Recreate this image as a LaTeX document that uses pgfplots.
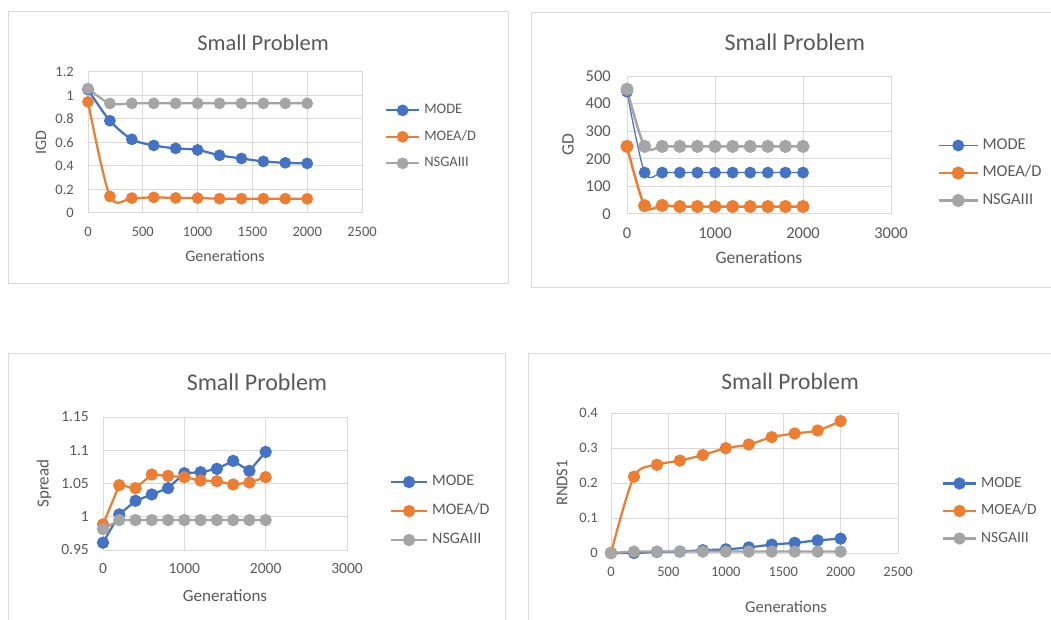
\documentclass[border=0pt]{standalone}
\usepackage{pgfplots}
\pgfplotsset{compat=1.18}
\usepackage{fontspec}
\setmainfont{Carlito}
\definecolor{cBlue}{HTML}{4472C4}
\definecolor{cOrange}{HTML}{ED7D31}
\definecolor{cGray}{HTML}{A5A5A5}
\definecolor{cText}{HTML}{595959}
\definecolor{cGrid}{HTML}{D9D9D9}
\definecolor{cFrame}{HTML}{D9D9D9}
\newcommand{\fs}[1]{\fontsize{#1}{#1}\selectfont}
\pgfplotsset{
  excel/.style={
    scale only axis,
    axis line style={draw=cGrid, line width=1pt},
    grid=major, grid style={draw=cGrid, line width=1pt},
    major tick length=0pt,
    every tick/.style={draw=none},
    tick label style={text=cText},
    /pgf/number format/assume math mode=true,
    /pgf/number format/1000 sep={},
    xticklabel style={anchor=center, inner sep=0pt},
    yticklabel style={anchor=east, inner sep=0pt},
    label style={text=cText},
    xlabel style={anchor=center},
    ylabel style={at={(rel axis cs:0,0.5)}, anchor=center},
    title style={anchor=center, text=cText},
    legend style={draw=none, fill=none, inner sep=0pt, outer sep=0pt, text=cText, anchor=west,
      nodes={inner sep=0pt, text height=10pt, text depth=3pt}},
    legend cell align=left,
    clip=false,
  },
}
\begin{document}
\begin{tikzpicture}
\path[use as bounding box, fill=white] (0pt,0pt) rectangle (1051pt,619pt);
% frames
\draw[cFrame, line width=1pt] (8pt,335pt) rectangle (508pt,607pt);
\draw[cFrame, line width=1pt] (531pt,331pt) rectangle (1060pt,606pt);
\draw[cFrame, line width=1pt] (8pt,266pt) rectangle (505pt,-10pt);
\draw[cFrame, line width=1pt] (528pt,266pt) rectangle (1060pt,-10pt);

% Panel 1: IGD
\begin{axis}[excel, at={(88pt,406pt)}, anchor=south west, width=274pt, height=141pt,
  xmin=0, xmax=2500, ymin=0, ymax=1.2,
  xtick={0,500,...,2500}, ytick={0,0.2,0.4,0.6,0.8,1,1.2},
  tick label style={font=\fs{14.5}},
  xticklabel style={yshift=-19pt}, yticklabel style={xshift=-14pt},
  xlabel={Generations}, ylabel={IGD}, label style={font=\fs{16}},
  xlabel style={at={(rel axis cs:0.5,0)}, yshift=-43pt},
  ylabel style={yshift=47pt},
  title={Small Problem}, title style={at={(axis description cs:0.639,1.163)}, font=\fs{22.5}},
  legend style={at={(axis description cs:1.084,0.54)}, font=\fs{14.5}, row sep=13.5pt, column sep=4pt},
  legend image code/.code={\draw[mark repeat=2,mark phase=2,#1] plot coordinates {(0pt,0pt) (16.5pt,0pt) (33pt,0pt)};},
  every axis plot/.append style={line width=2.25pt, mark=*, mark size=4.7pt, mark options={solid}},
]
\addplot[cBlue, smooth, tension=0.5, mark options={fill=cBlue, draw=cBlue}] coordinates {
(0,1.05)(200,0.785)(400,0.627)(600,0.575)(800,0.55)(1000,0.537)(1200,0.491)(1400,0.464)(1600,0.439)(1800,0.427)(2000,0.422)};
\addplot[cOrange, smooth, tension=0.5, mark options={fill=cOrange, draw=cOrange}] coordinates {
(0,0.946)(200,0.141)(400,0.127)(600,0.133)(800,0.128)(1000,0.127)(1200,0.122)(1400,0.122)(1600,0.122)(1800,0.122)(2000,0.121)};
\addplot[cGray, smooth, tension=0.5, mark options={fill=cGray, draw=cGray}] coordinates {
(0,1.059)(200,0.932)(400,0.933)(600,0.933)(800,0.933)(1000,0.933)(1200,0.933)(1400,0.933)(1600,0.933)(1800,0.933)(2000,0.933)};
\legend{MODE,MOEA/D,NSGAIII}
\end{axis}

% Panel 2: GD
\begin{axis}[excel, at={(627pt,405pt)}, anchor=south west, width=264pt, height=138pt,
  xmin=0, xmax=3000, ymin=0, ymax=500,
  xtick={0,1000,2000,3000}, ytick={0,100,...,500},
  tick label style={font=\fs{16.5}},
  xticklabel style={yshift=-19pt}, yticklabel style={xshift=-16pt},
  xlabel={Generations}, ylabel={GD}, label style={font=\fs{17.5}},
  xlabel style={at={(rel axis cs:0.5,0)}, yshift=-44pt},
  ylabel style={yshift=59pt},
  title={Small Problem}, title style={at={(axis description cs:0.636,1.203)}, font=\fs{24}},
  legend style={at={(axis description cs:1.178,0.297)}, font=\fs{16.5}, row sep=14.5pt, column sep=4pt},
  legend image code/.code={\draw[mark repeat=2,mark phase=2,#1] plot coordinates {(0pt,0pt) (19pt,0pt) (38pt,0pt)};},
  every axis plot/.append style={mark=*, mark size=5.3pt, mark options={solid}},
]
\addplot[cBlue, line width=1.25pt, smooth, tension=0.5, mark options={fill=cBlue, draw=cBlue}] coordinates {
(0,443)(200,150)(400,150)(600,150)(800,150)(1000,150)(1200,150)(1400,150)(1600,150)(1800,150)(2000,150)};
\addplot[cOrange, line width=2.5pt, smooth, tension=0.5, mark options={fill=cOrange, draw=cOrange}] coordinates {
(0,245)(200,30)(400,31)(600,27)(800,27)(1000,27)(1200,27)(1400,27)(1600,27)(1800,27)(2000,27)};
\addplot[cGray, line width=2.5pt, smooth, tension=0.5, mark options={fill=cGray, draw=cGray}] coordinates {
(0,452)(200,245)(400,245)(600,245)(800,245)(1000,245)(1200,245)(1400,245)(1600,245)(1800,245)(2000,245)};
\legend{MODE,MOEA/D,NSGAIII}
\end{axis}

% Panel 3: Spread
\begin{axis}[excel, at={(103pt,69pt)}, anchor=south west, width=244pt, height=133pt,
  xmin=0, xmax=3000, ymin=0.95, ymax=1.15,
  xtick={0,1000,2000,3000}, ytick={0.95,1,1.05,1.1,1.15},
  tick label style={font=\fs{15.5}},
  xticklabel style={yshift=-19pt}, yticklabel style={xshift=-14pt},
  xlabel={Generations}, ylabel={Spread}, label style={font=\fs{17}},
  xlabel style={at={(rel axis cs:0.5,0)}, yshift=-46pt},
  ylabel style={yshift=59pt},
  title={Small Problem}, title style={at={(axis description cs:0.631,1.218)}, font=\fs{24}},
  legend style={at={(axis description cs:1.176,0.293)}, font=\fs{16}, row sep=16pt, column sep=4pt},
  legend image code/.code={\draw[mark repeat=2,mark phase=2,#1] plot coordinates {(0pt,0pt) (18pt,0pt) (36pt,0pt)};},
  every axis plot/.append style={line width=2.25pt, mark=*, mark size=5pt, mark options={solid}},
]
\addplot[cBlue, mark options={fill=cBlue, draw=cBlue}] coordinates {
(0,0.961)(200,1.0035)(400,1.024)(600,1.0335)(800,1.043)(1000,1.0655)(1200,1.067)(1400,1.072)(1600,1.084)(1800,1.069)(2000,1.0975)};
\addplot[cOrange, mark options={fill=cOrange, draw=cOrange}] coordinates {
(0,0.9885)(200,1.0475)(400,1.043)(600,1.0635)(800,1.0615)(1000,1.0595)(1200,1.0545)(1400,1.0535)(1600,1.0485)(1800,1.0515)(2000,1.0595)};
\addplot[cGray, mark options={fill=cGray, draw=cGray}] coordinates {
(0,0.9815)(200,0.995)(400,0.995)(600,0.995)(800,0.995)(1000,0.995)(1200,0.995)(1400,0.995)(1600,0.995)(1800,0.995)(2000,0.995)};
\legend{MODE,MOEA/D,NSGAIII}
\end{axis}

% Panel 4: RNDS1
\begin{axis}[excel, at={(611pt,66pt)}, anchor=south west, width=287pt, height=140pt,
  xmin=0, xmax=2500, ymin=0, ymax=0.4,
  xtick={0,500,...,2500}, ytick={0,0.1,0.2,0.3,0.4},
  tick label style={font=\fs{14.5}},
  xticklabel style={yshift=-19pt}, yticklabel style={xshift=-13pt},
  xlabel={Generations}, ylabel={RNDS1}, label style={font=\fs{16.5}},
  xlabel style={at={(rel axis cs:0.61,0)}, yshift=-54pt},
  ylabel style={yshift=49pt},
  title={Small Problem}, title style={at={(axis description cs:0.624,1.186)}, font=\fs{23.5}},
  legend style={at={(axis description cs:1.153,0.30)}, font=\fs{15.5}, row sep=14.5pt, column sep=4pt},
  legend image code/.code={\draw[mark repeat=2,mark phase=2,#1] plot coordinates {(0pt,0pt) (16.5pt,0pt) (33pt,0pt)};},
  every axis plot/.append style={line width=2.25pt, mark=*, mark size=5pt, mark options={solid}},
]
\addplot[cBlue, smooth, tension=0.5, mark options={fill=cBlue, draw=cBlue}] coordinates {
(0,0)(200,0)(400,0.003)(600,0.004)(800,0.008)(1000,0.0105)(1200,0.016)(1400,0.024)(1600,0.029)(1800,0.036)(2000,0.041)};
\addplot[cOrange, smooth, tension=0.5, mark options={fill=cOrange, draw=cOrange}] coordinates {
(0,0)(200,0.218)(400,0.252)(600,0.264)(800,0.280)(1000,0.2995)(1200,0.310)(1400,0.331)(1600,0.3415)(1800,0.350)(2000,0.377)};
\addplot[cGray, smooth, tension=0.5, mark options={fill=cGray, draw=cGray}] coordinates {
(0,0)(200,0.004)(400,0.004)(600,0.004)(800,0.004)(1000,0.004)(1200,0.004)(1400,0.004)(1600,0.004)(1800,0.004)(2000,0.004)};
\legend{MODE,MOEA/D,NSGAIII}
\end{axis}
\end{tikzpicture}
\end{document}
